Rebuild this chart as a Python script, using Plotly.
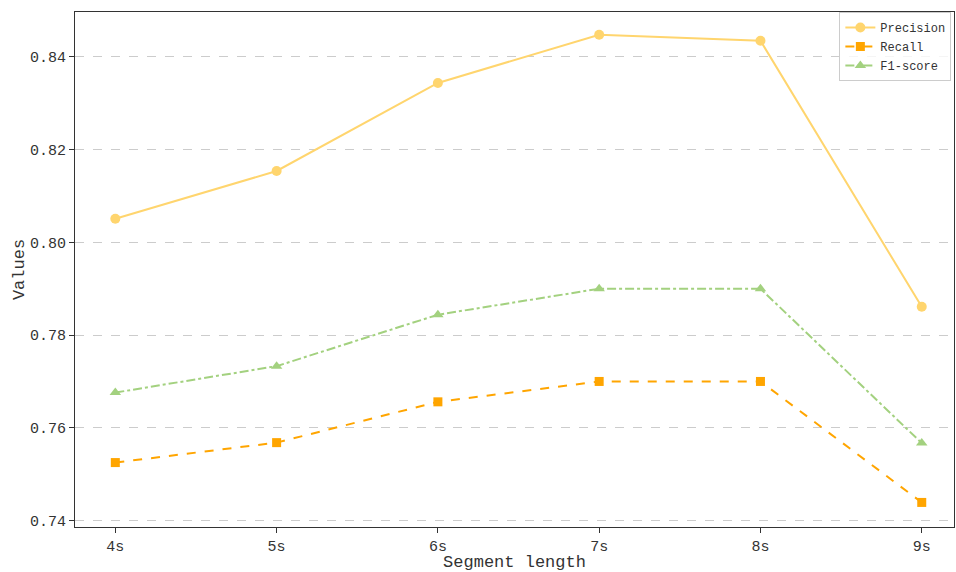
import plotly.graph_objects as go

segments = ["4s", "5s", "6s", "7s", "8s", "9s"]
seg_x = [4, 5, 6, 7, 8, 9]
precision = [0.8051, 0.8154, 0.8344, 0.8448, 0.8435, 0.7861]
recall = [0.7525, 0.7568, 0.7656, 0.7700, 0.7700, 0.7439]
f1 = [0.7676, 0.7733, 0.7844, 0.7900, 0.7900, 0.7567]
y_ticks = [0.74, 0.76, 0.78, 0.80, 0.82, 0.84]

FONT = "Liberation Mono"

fig = go.Figure()
fig.add_trace(go.Scatter(x=seg_x, y=precision, name="Precision", mode="lines+markers",
                         line=dict(color="#FFD56E", width=2, dash="solid"),
                         marker=dict(symbol="circle", size=10, color="#FFD56E")))
fig.add_trace(go.Scatter(x=seg_x, y=recall, name="Recall", mode="lines+markers",
                         line=dict(color="#FFA500", width=2, dash="dash"),
                         marker=dict(symbol="square", size=9, color="#FFA500")))
fig.add_trace(go.Scatter(x=seg_x, y=f1, name="F1-score", mode="lines+markers",
                         line=dict(color="#A3D17F", width=2, dash="dashdot"),
                         marker=dict(symbol="triangle-up", size=10, color="#A3D17F")))

fig.update_layout(
    width=956, height=572,
    margin=dict(l=75, r=2, t=12, b=45),
    plot_bgcolor="white", paper_bgcolor="white",
    font=dict(family=FONT, color="#333333"),
    xaxis=dict(range=[3.75, 9.2], tickvals=seg_x, ticktext=segments,
               showgrid=False, zeroline=False,
               showline=True, linecolor="#333333", linewidth=1.2, mirror=True,
               ticks="outside", ticklen=5, tickcolor="#333333",
               tickfont=dict(size=15, family=FONT),
               title=dict(text="Segment length", font=dict(size=17, family=FONT), standoff=3)),
    yaxis=dict(range=[0.7386, 0.8497], tickvals=y_ticks,
               ticktext=["0.74", "0.76", "0.78", "0.80", "0.82", "0.84"],
               showgrid=True, gridcolor="#cccccc", griddash="dash", gridwidth=1,
               zeroline=False,
               showline=True, linecolor="#333333", linewidth=1.2, mirror=True,
               ticks="outside", ticklen=5, tickcolor="#333333",
               tickfont=dict(size=15, family=FONT),
               title=dict(text="Values", font=dict(size=17, family=FONT), standoff=0)),
    legend=dict(x=0.997, y=1.0, xanchor="right", yanchor="top",
                bgcolor="rgba(255,255,255,0.8)", bordercolor="#cccccc", borderwidth=1,
                font=dict(size=12, family=FONT, color="#333333"),
                tracegroupgap=0, itemwidth=30),
)

fig.write_html("out.html", config={"displayModeBar": False},
               post_script="document.body.style.margin='0';document.body.style.overflow='hidden';")
